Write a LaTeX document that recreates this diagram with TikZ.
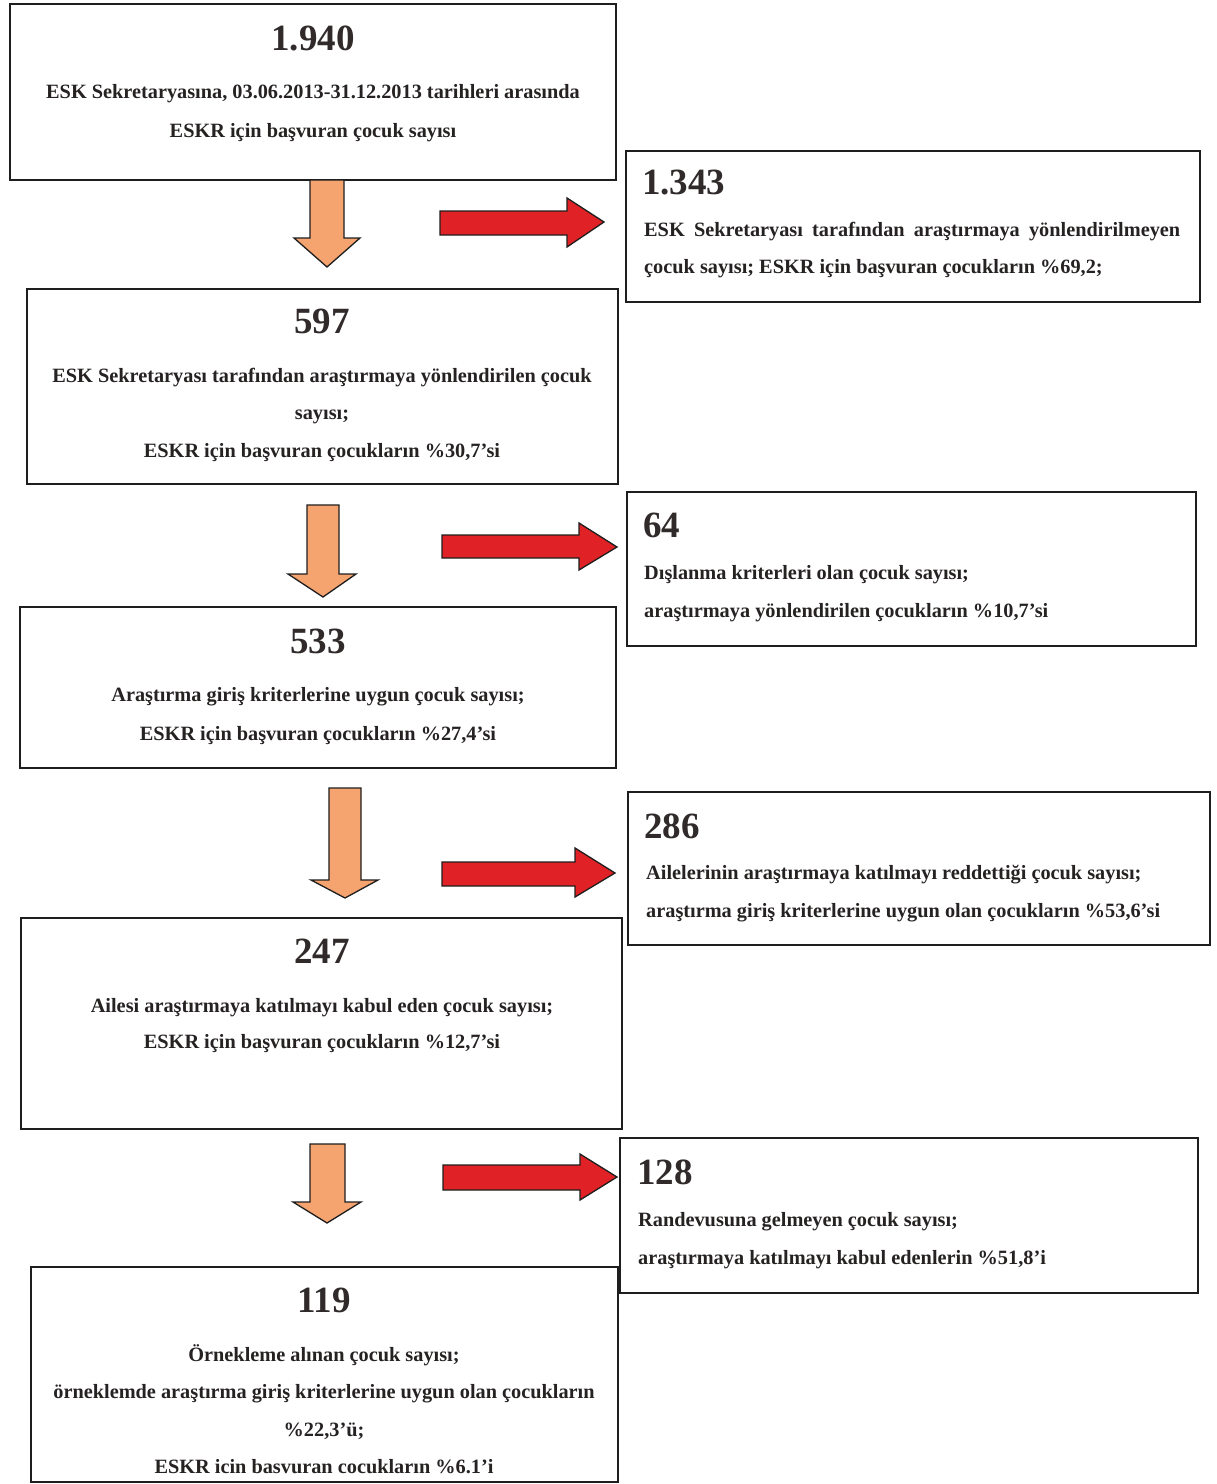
\documentclass[tikz,border=0pt]{standalone}
\usepackage{fontspec}
\setmainfont{Liberation Serif}
\newfontfamily\boxfont{Liberation Serif}
\definecolor{txtcol}{HTML}{262222}
\definecolor{numcol}{HTML}{302A2A}
\definecolor{orangefill}{HTML}{F5A36F}
\definecolor{redfill}{HTML}{E02226}
\definecolor{edgecol}{HTML}{1E1E1E}
\tikzset{
  boxframe/.style={draw=edgecol, line width=1.8pt, fill=white},
  txt/.style={anchor=base, inner sep=0pt, text=txtcol, font=\boxfont\bfseries\fontsize{20.3}{22}\selectfont},
  txtl/.style={txt, anchor=base west},
  num/.style={anchor=base, inner sep=0pt, text=numcol, font=\boxfont\bfseries\fontsize{37}{40}\selectfont},
  numl/.style={num, anchor=base west},
  downarrow/.style={draw=edgecol, line width=1.3pt, fill=orangefill, line join=miter},
  rightarrow/.style={draw=edgecol, line width=1.3pt, fill=redfill, line join=miter}
}
\begin{document}
\begin{tikzpicture}[x=1pt,y=-1pt]
\useasboundingbox (0,0) rectangle (1217,1484);
\fill[white] (0,0) rectangle (1217,1484);

% boxes
\path[boxframe] (10,4) rectangle (616,180);
\path[boxframe] (626,151) rectangle (1200,302);
\path[boxframe] (27,289) rectangle (618,484);
\path[boxframe] (627,492) rectangle (1196,646);
\path[boxframe] (20,607) rectangle (616,768);
\path[boxframe] (628,792) rectangle (1210,945);
\path[boxframe] (21,918) rectangle (622,1129);
\path[boxframe] (620,1138) rectangle (1198,1293);
\path[boxframe] (31,1267) rectangle (618,1482);

% box 1
\node[num] (n1) at (313,50) {1.940};
\node[txt] (t1a) at (313,98) {ESK Sekretaryasına, 03.06.2013-31.12.2013 tarihleri arasında};
\node[txt] (t1b) at (313,137) {ESKR için başvuran çocuk sayısı};

% box 2
\node[numl] (n2) at (642,194) {1.343};
\node[txtl] (t2a) at (644,236) {\makebox[536pt][s]{ESK Sekretaryası tarafından araştırmaya yönlendirilmeyen}};
\node[txtl] (t2b) at (644,273) {çocuk sayısı; ESKR için başvuran çocukların \%69,2;};

% box 3
\node[num] (n3) at (322,333) {597};
\node[txt] (t3a) at (322,382) {ESK Sekretaryası tarafından araştırmaya yönlendirilen çocuk};
\node[txt] (t3b) at (322,419) {sayısı;};
\node[txt] (t3c) at (322,457) {ESKR için başvuran çocukların \%30,7’si};

% box 4
\node[numl] (n4) at (643,537) {64};
\node[txtl] (t4a) at (644,579) {Dışlanma kriterleri olan çocuk sayısı;};
\node[txtl] (t4b) at (644,617) {araştırmaya yönlendirilen çocukların \%10,7’si};

% box 5
\node[num] (n5) at (318,653) {533};
\node[txt] (t5a) at (318,701) {Araştırma giriş kriterlerine uygun çocuk sayısı;};
\node[txt] (t5b) at (318,740) {ESKR için başvuran çocukların \%27,4’si};

% box 6
\node[numl] (n6) at (644,838) {286};
\node[txtl] (t6a) at (646,879) {Ailelerinin araştırmaya katılmayı reddettiği çocuk sayısı;};
\node[txtl] (t6b) at (646,917) {araştırma giriş kriterlerine uygun olan çocukların \%53,6’si};

% box 7
\node[num] (n7) at (322,963) {247};
\node[txt] (t7a) at (322,1012) {Ailesi araştırmaya katılmayı kabul eden çocuk sayısı;};
\node[txt] (t7b) at (322,1048) {ESKR için başvuran çocukların \%12,7’si};

% box 8
\node[numl] (n8) at (637,1184) {128};
\node[txtl] (t8a) at (638,1226) {Randevusuna gelmeyen çocuk sayısı;};
\node[txtl] (t8b) at (638,1264) {araştırmaya katılmayı kabul edenlerin \%51,8’i};

% box 9
\node[num] (n9) at (324,1312) {119};
\node[txt] (t9a) at (324,1361) {Örnekleme alınan çocuk sayısı;};
\node[txt] (t9b) at (324,1398) {örneklemde araştırma giriş kriterlerine uygun olan çocukların};
\node[txt] (t9c) at (324,1436) {\%22,3’ü;};
\node[txt] (t9d) at (324,1473) {ESKR icin basvuran cocukların \%6.1’i};

% down arrows
\path[downarrow] (310,180) -- (344,180) -- (344,238) -- (360,238) -- (327,267) -- (294,238) -- (310,238) -- cycle;
\path[downarrow] (307,505) -- (339,505) -- (339,574) -- (356,574) -- (323,597) -- (288,574) -- (307,574) -- cycle;
\path[downarrow] (329,788) -- (361,788) -- (361,880) -- (378,880) -- (345,898) -- (311,880) -- (329,880) -- cycle;
\path[downarrow] (310,1144) -- (345,1144) -- (345,1202) -- (361,1202) -- (327,1223) -- (293,1202) -- (310,1202) -- cycle;

% right arrows
\path[rightarrow] (440,211) -- (567,211) -- (567,198) -- (604,222) -- (567,247) -- (567,235) -- (440,235) -- cycle;
\path[rightarrow] (442,535) -- (579,535) -- (579,523) -- (617,547) -- (579,570) -- (579,558) -- (442,558) -- cycle;
\path[rightarrow] (442,862) -- (575,862) -- (575,848) -- (615,873) -- (575,897) -- (575,886) -- (442,886) -- cycle;
\path[rightarrow] (443,1165) -- (580,1165) -- (580,1154) -- (617,1177) -- (580,1200) -- (580,1190) -- (443,1190) -- cycle;
\end{tikzpicture}
\end{document}
